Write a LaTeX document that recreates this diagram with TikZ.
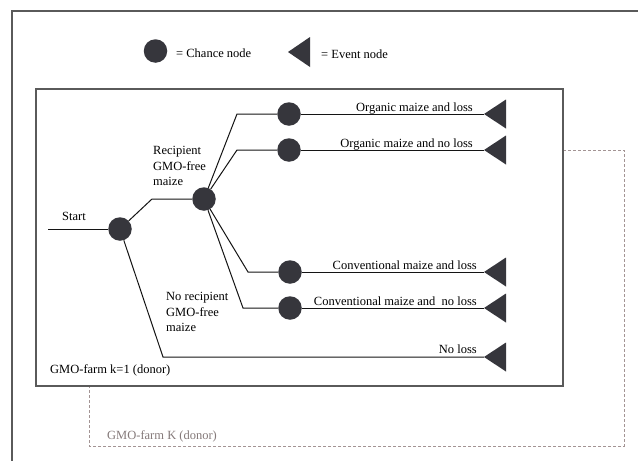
\documentclass[tikz,border=0pt]{standalone}
\usepackage{fontspec}
\setmainfont{Liberation Serif}
\begin{document}
\begin{tikzpicture}[x=1pt,y=-1pt,
  every node/.style={font=\rmfamily\fontsize{12.5}{15.5}\selectfont, text=black},
  chance/.style={circle, fill=nodefill, draw=none, minimum size=23.5pt, inner sep=0pt},
  evt/.style={fill=nodefill},
  branch/.style={draw=black!92, line width=1pt},
  lbl/.style={anchor=base east, inner sep=0pt},
  dashline/.style={draw=dashcol, line width=1pt, dash pattern=on 3pt off 2pt},
]
\definecolor{nodefill}{HTML}{36363C}
\definecolor{dashcol}{HTML}{A39494}
\definecolor{frame}{HTML}{5A5A5A}
\definecolor{ktext}{HTML}{857A7A}
\useasboundingbox (0,0) rectangle (638,461);
\fill[white] (0,0) rectangle (638,461);
% outer frame
\draw[frame, line width=1.6pt] (12,461) -- (12,11) -- (638,11);

% legend
\node[chance] (lc) at (155.5,51) {};
\node[anchor=west, inner sep=0pt] (lct) at (176,53) {= Chance node};
\coordinate (lt) at (288,52);
\fill[evt] (lt) -- ++(22,-15) -- ++(0,30) -- cycle;
\node[anchor=west, inner sep=0pt] (let) at (321,54) {= Event node};

% dashed box (second farm)
\coordinate (d1) at (563,150);
\coordinate (d2) at (624,150);
\coordinate (d3) at (624,446);
\coordinate (d4) at (89,446);
\coordinate (d5) at (89,386);
\draw[dashline] (d1) -- (d2) -- (d3) -- (d4) -- (d5);
\node[anchor=west, inner sep=0pt, text=ktext] (lk) at (107,436) {GMO-farm K (donor)};

% inner box
\draw[frame, line width=1.5pt, fill=white] (36,89) rectangle (563,386);
\node[anchor=west, inner sep=0pt] (lk1) at (50,370) {GMO-farm k=1 (donor)};

% tree
\coordinate (s) at (48,229);
\node[chance] (c0) at (120,229) {};
\node[anchor=base west, inner sep=0pt] (lstart) at (62,220) {Start};
\coordinate (k0) at (152,199);
\node[chance] (c1) at (204,199) {};
\node[anchor=west, align=left, inner sep=0pt] (lrec) at (153,166) {Recipient\\GMO-free\\maize};
\node[anchor=west, align=left, inner sep=0pt] (lnrec) at (166,312) {No recipient\\GMO-free\\maize};

\coordinate (k1) at (237,114);
\coordinate (k2) at (237,150);
\coordinate (k3) at (248,272);
\coordinate (k4) at (243,308);
\coordinate (k5) at (163,357);

\node[chance] (o1) at (289,114) {};
\node[chance] (o2) at (289,150) {};
\node[chance] (o3) at (290,272) {};
\node[chance] (o4) at (290,308) {};

\coordinate (t1) at (484,114);
\coordinate (t2) at (484,150);
\coordinate (t3) at (484,272);
\coordinate (t4) at (484,308);
\coordinate (t5) at (484,357);

\draw[branch] (s) -- (c0);
\draw[branch] (c0) -- (k0) -- (c1);
\draw[branch] (c1) -- (k1) -- (o1);
\draw[branch] (c1) -- (k2) -- (o2);
\draw[branch] (c1) -- (k3) -- (o3);
\draw[branch] (c1) -- (k4) -- (o4);
\draw[branch] (c0) -- (k5) -- (t5);
\draw[branch] (o1) -- (t1);
\draw[branch] (o2) -- (t2);
\draw[branch] (o3) -- (t3);
\draw[branch] (o4) -- (t4);

\foreach \t in {t1,t2,t3,t4,t5}
  \fill[evt] (\t) -- ++(22,-14.5) -- ++(0,29) -- cycle;

\node[lbl] (l1) at (473,111) {Organic maize and loss};
\node[lbl] (l2) at (473,147) {Organic maize and no loss};
\node[lbl] (l3) at (477,269) {Conventional maize and loss};
\node[lbl] (l4) at (477,305) {Conventional maize and\ \ no loss};
\node[lbl] (l5) at (477,353) {No loss};
\end{tikzpicture}
\end{document}
